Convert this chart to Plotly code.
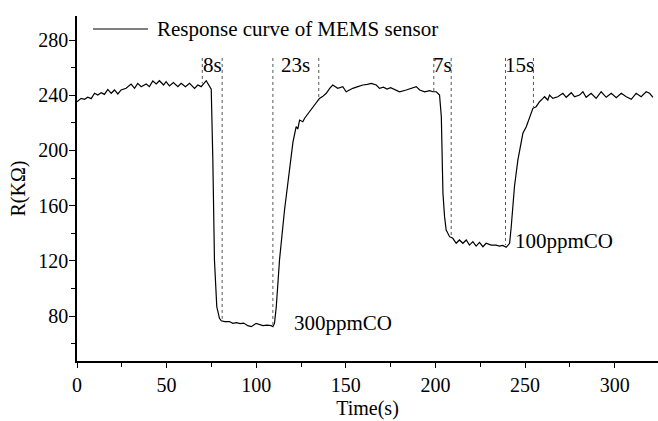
import plotly.graph_objects as go

# ---- data ----
time_s = [0, 2.3, 4.2, 6.0, 7.9, 9.8, 11.6, 13.5, 15.3, 17.2, 19.1, 20.9, 22.8, 24.6, 27.4,
          30.2, 32.1, 33.9, 35.8, 38.6, 40.4, 42.3, 44.2, 46.0, 48.3, 49.7, 51.6, 53.8,
          56.3, 58.1, 60.5, 62.8, 65.6, 67.4, 69.3, 72.1, 74.9, 75.2, 75.8, 76.7, 78.0,
          79.5, 80.5, 82.5, 85, 87, 89, 91, 93, 95.3, 97.2, 100, 102, 103.7, 106, 108.4,
          109.3, 110.2, 111.2, 113, 115.8, 119, 120.5, 122.3, 123.2, 124.2, 126, 127,
          129.7, 131.5, 133.5, 135.3, 137, 139.1, 141, 142.7, 145.5, 148.3, 150.2, 152,
          153.9, 156.7, 159.5, 162, 164.2, 167, 168.8, 171, 173, 175, 177.5, 180, 183.7,
          186.5, 189.3, 191.2, 194, 196.8, 198.6, 200.5, 202.3, 203.3, 203.8, 204.2,
          205.1, 206, 207.9, 209.7, 211.6, 213.4, 215.3, 217.2, 219, 220.9, 222.7, 224.6,
          226.5, 228.3, 231.1, 233.9, 235.7, 237.6, 239.5, 241.4, 242.3, 243.2, 244.1,
          246, 248.8, 250.7, 252.5, 254.4, 256.2, 258.1, 260, 260.9, 262.7, 263.7, 265.5,
          268.3, 271.1, 273, 275.8, 277.6, 280.4, 282.3, 284.1, 286.9, 289.7, 292.5,
          295.3, 298.1, 300.9, 303.7, 306.5, 309.3, 312, 314.8, 317.6, 319.5, 321.4]
resistance_kohm = [235.3, 237.7, 237.0, 238.5, 237.5, 241.4, 240.1, 241.8, 240.6, 244.2,
                   241.4, 243.8, 240.9, 243.8, 245.0, 248.1, 245.0, 248.6, 246.2, 248.1,
                   246.2, 250.3, 248.1, 250.5, 247.4, 249.8, 246.7, 249.1, 246.2, 248.6,
                   246.2, 248.6, 245.0, 247.4, 246.2, 250.5, 244.3, 215, 193, 120.6, 86.7,
                   78.3, 76.5, 75.9, 76.0, 74.7, 75.2, 74.5, 74.9, 73.0, 72.3, 74.7, 73.5,
                   73.0, 73.4, 73.0, 72.3, 74.7, 86.7, 120.6, 156.8, 193, 206, 217.2, 215.5,
                   222, 220.8, 223.3, 228, 230.5, 234.1, 237.7, 239, 241.4, 245, 247.4, 245,
                   246.2, 242.5, 244, 245, 246.2, 247.4, 247.8, 248.6, 247.4, 245, 245.8,
                   244.5, 245.5, 243.8, 242.5, 243.8, 245, 246.2, 243.8, 242.5, 243.3, 242.5,
                   242.5, 240.1, 224.4, 193, 168.9, 152, 142.3, 137.5, 136.3, 132.7, 135.1,
                   132.7, 135.1, 131.4, 133.9, 130.7, 133.4, 130.2, 132.7, 131.4, 131.4,
                   130.7, 131.2, 129.8, 132.7, 144.7, 156.8, 173.7, 193, 212.4, 217.2, 224.4,
                   230.5, 231.7, 235.3, 237.7, 238.9, 236.5, 240.1, 237.7, 238.9, 241.4,
                   238.5, 241.8, 238.9, 240.1, 242.5, 238.5, 241.4, 237.7, 242.5, 238.5,
                   241.4, 238.2, 241.4, 238.9, 237.0, 241.4, 238.9, 242.5, 241.4, 238.5]

# response / recovery markers (dotted lines) and their labels
marker_times = [69.9, 81.0, 109.3, 134.9, 199.1, 208.8, 239.1, 254.7]
marker_bottoms = [248.5, 78.0, 73.0, 236.0, 243.0, 138.7, 131.4, 230.5]
marker_top = 267
interval_labels = ["8s", "23s", "7s", "15s"]
label_value = 262

gas_labels = ["300ppmCO", "100ppmCO"]
gas_label_t = [148.5, 272]
gas_label_r = [75, 134.5]

legend_name = "Response curve of MEMS sensor"

x_ticks = [0, 50, 100, 150, 200, 250, 300]
y_ticks = [80, 120, 160, 200, 240, 280]

FONT = "Liberation Serif, Times New Roman, serif"

fig = go.Figure()
fig.add_trace(go.Scatter(x=time_s, y=resistance_kohm, mode="lines",
                         line=dict(color="black", width=1.2), name=legend_name,
                         showlegend=False))

shapes = []
for t, b in zip(marker_times, marker_bottoms):
    shapes.append(dict(type="line", xref="x", yref="y", x0=t, x1=t, y0=marker_top, y1=b,
                       line=dict(color="#555555", width=1, dash="dot")))
# custom legend line
LEG_Y = (361 - 29) / 345
shapes.append(dict(type="line", xref="paper", yref="paper", x0=(93 - 77) / 581,
                   x1=(148 - 77) / 581, y0=LEG_Y, y1=LEG_Y,
                   line=dict(color="black", width=1.2)))

annotations = []
for i, lab in enumerate(interval_labels):
    tmid = (marker_times[2 * i] + marker_times[2 * i + 1]) / 2
    annotations.append(dict(x=tmid, y=label_value, xref="x", yref="y", text=lab,
                            showarrow=False, yanchor="middle",
                            font=dict(size=21, color="black", family=FONT)))
for lab, t, r in zip(gas_labels, gas_label_t, gas_label_r):
    annotations.append(dict(x=t, y=r, xref="x", yref="y", text=lab, showarrow=False,
                            yanchor="middle",
                            font=dict(size=21, color="black", family=FONT)))
annotations.append(dict(x=(155 - 77) / 581, y=LEG_Y, xref="paper", yref="paper",
                        text=legend_name, showarrow=False, xanchor="left", yanchor="middle",
                        font=dict(size=21, color="black", family=FONT)))

fig.update_layout(
    width=658, height=421,
    margin=dict(l=77, r=0, t=16, b=60),
    paper_bgcolor="white", plot_bgcolor="white",
    font=dict(family=FONT, size=20, color="black"),
    shapes=shapes, annotations=annotations,
)
fig.update_xaxes(range=[0, 324.2], tickvals=x_ticks, ticks="outside", ticklen=5,
                 tickwidth=1.3, tickcolor="black", showline=True, linecolor="black",
                 linewidth=1.5, showgrid=False, zeroline=False,
                 minor=dict(ticks="outside", ticklen=4, dtick=25, tick0=0,
                            tickcolor="black", tickwidth=1.3),
                 title=dict(text="Time(s)", standoff=6, font=dict(size=20, family=FONT)),
                 tickfont=dict(size=20, family=FONT))
fig.update_yaxes(range=[47.4, 297.4], tickvals=y_ticks, ticks="outside", ticklen=6,
                 tickwidth=1.3, tickcolor="black", showline=True, linecolor="black",
                 linewidth=1.5, showgrid=False, zeroline=False, ticklabelstandoff=-3,
                 minor=dict(ticks="outside", ticklen=4, dtick=20, tick0=0,
                            tickcolor="black", tickwidth=1.3),
                 title=dict(text="R(KΩ)", standoff=7, font=dict(size=20, family=FONT)),
                 tickfont=dict(size=20, family=FONT))

fig.write_html("out.html")
